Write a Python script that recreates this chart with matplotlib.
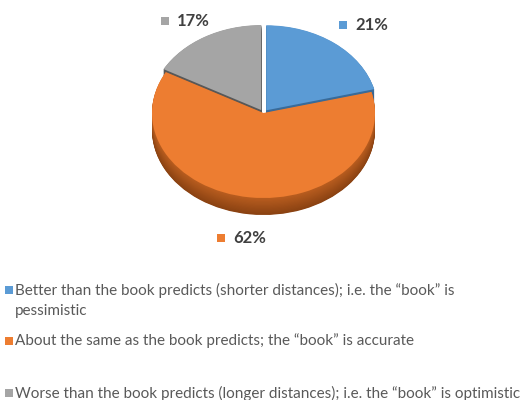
import numpy as np
import matplotlib
matplotlib.use('Agg')
from matplotlib import pyplot as plt

# data
values = [21, 62, 17]
pct_labels = ['21%', '62%', '17%']
colors = ['#5b9bd5', '#ed7d31', '#a5a5a5']
side_top = ['#3a6d9c', '#b85d1f', '#5a5a5a']
side_bot = ['#2a5580', '#8a4212', '#404040']
explode = [0.04, 0.0, 0.04]
legend_lines = [
    'Better than the book predicts (shorter distances); i.e. the \u201cbook\u201d is',
    'About the same as the book predicts; the \u201cbook\u201d is accurate',
    'Worse than the book predicts (longer distances); i.e. the \u201cbook\u201d is optimistic',
]

W, H = 523, 400
fig = plt.figure(figsize=(W / 100, H / 100), dpi=100)
fig.patch.set_facecolor('white')

# pie axes, ellipse made by unequal x/y scale
cx, cy, rx, ry = 263.5, 113, 111.5, 85
x0, x1, y0, y1 = -1.3, 1.3, -1.5, 1.3
left = cx + x0 * rx
top = cy - y1 * ry
wpx = (x1 - x0) * rx
hpx = (y1 - y0) * ry
ax = fig.add_axes([left / W, 1 - (top + hpx) / H, wpx / W, hpx / H])

depth = 0.2
n_layers = 30
for i, d in enumerate(np.linspace(depth, 0.005, n_layers)):
    t = i / (n_layers - 1)
    cols = []
    for a, b in zip(side_bot, side_top):
        ca = np.array(matplotlib.colors.to_rgb(a))
        cb = np.array(matplotlib.colors.to_rgb(b))
        cols.append(ca * (1 - t) + cb * t)
    ax.pie(values, colors=cols, startangle=90, counterclock=False,
           explode=explode, center=(0, -d), wedgeprops=dict(linewidth=0))
ax.pie(values, colors=colors, startangle=90, counterclock=False,
       explode=explode, center=(0, 0), wedgeprops=dict(linewidth=0))
ax.set_aspect('auto')
ax.set_xlim(x0, x1)
ax.set_ylim(y0, y1)
ax.axis('off')

# overlay in pixel coordinates for labels and legend
ov = fig.add_axes([0, 0, 1, 1])
ov.set_xlim(0, W)
ov.set_ylim(H, 0)
ov.axis('off')

lab_font = ['Lato', 'DejaVu Sans']
# data labels (blue, orange, gray)
lab_pos = [(343, 25), (221, 238), (165, 21)]
for (px, py), c, s in zip(lab_pos, colors, pct_labels):
    ov.scatter([px], [py], marker='s', s=26, color=c, linewidths=0)
    ov.text(px + 12, py, s, fontsize=12, fontweight='bold', color='#404040',
            va='center', ha='left', family=lab_font)

# legend
leg_y = [290, 341, 393]
for y, c, s in zip(leg_y, colors, legend_lines):
    ov.scatter([9], [y], marker='s', s=30, color=c, linewidths=0)
    ov.text(15, y, s, fontsize=11, color='#595959', va='center', ha='left',
            family=lab_font)
ov.text(15, 311, 'pessimistic', fontsize=11, color='#595959', va='center',
        ha='left', family=lab_font)

fig.savefig('out.png', dpi=100)
